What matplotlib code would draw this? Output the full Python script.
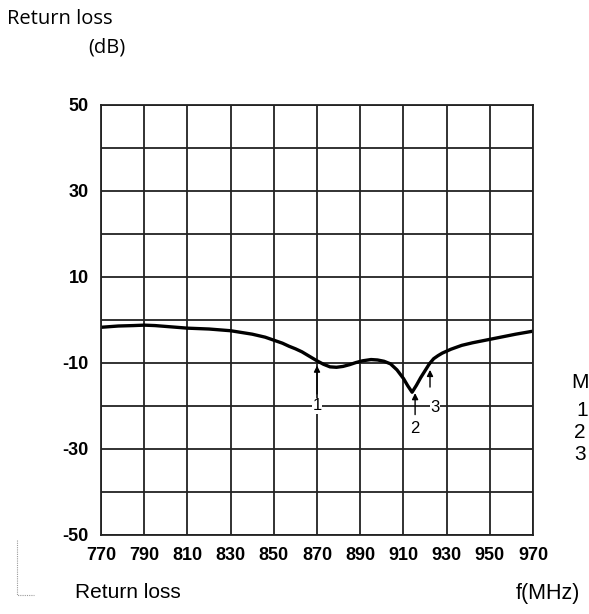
import matplotlib.pyplot as plt
from matplotlib.lines import Line2D

# frequency (MHz) and return loss (dB)
freq = [770, 778, 785, 790, 795, 800, 810, 820, 830, 840, 846, 850, 854, 857,
        860, 863, 866, 870, 873, 876, 879, 882, 885, 888, 891, 895, 898, 901,
        904, 907, 910, 912, 914, 916, 918, 920, 922, 924, 926, 928, 932, 937,
        942, 948, 955, 962, 970]
loss = [-1.7, -1.4, -1.3, -1.2, -1.3, -1.5, -1.9, -2.1, -2.5, -3.3, -4.0, -4.7,
        -5.4, -6.1, -6.7, -7.4, -8.3, -9.5, -10.3, -10.9, -11.0, -10.8, -10.4,
        -9.9, -9.5, -9.2, -9.3, -9.6, -10.2, -11.6, -13.6, -15.3, -16.8, -15.2,
        -13.4, -11.8, -10.2, -9.0, -8.3, -7.7, -6.8, -5.9, -5.3, -4.7, -4.0,
        -3.3, -2.6]

xticks = [770, 790, 810, 830, 850, 870, 890, 910, 930, 950, 970]
yticks = [50, 30, 10, -10, -30, -50]
ygrid = [-50, -40, -30, -20, -10, 0, 10, 20, 30, 40, 50]

# markers: (label, freq, arrow base, arrow tip, label x, label y)
markers = [('1', 870, -17.2, -10.6, 870, -20),
           ('2', 915.4, -22.0, -17.0, 915.4, -25.3),
           ('3', 922.3, -15.6, -11.6, 924.6, -20.4)]

# what is left visible of the legend at the right edge
legend_txt = ['M', '1', '2', '3']

fig = plt.figure(figsize=(5.89, 6.14), dpi=100)
ax = fig.add_axes([0.1715, 0.1287, 0.7335, 0.7003])

ax.set_xlim(770, 970)
ax.set_ylim(-50, 50)
ax.set_xticks(xticks)
ax.set_yticks(ygrid)
ax.set_yticklabels([str(v) if v in yticks else '' for v in ygrid])
ax.grid(True, color='#222222', linewidth=1.3)
ax.tick_params(length=0, pad=9, labelsize=13)
for lbl in ax.get_xticklabels() + ax.get_yticklabels():
    lbl.set_fontweight('bold')
    lbl.set_family('Liberation Sans')
for s in ax.spines.values():
    s.set_color('#222222')
    s.set_linewidth(1.3)

ax.plot(freq, loss, color='black', linewidth=2.4, solid_capstyle='round')

for name, f, base, tip, lx, ly in markers:
    ax.annotate('', xy=(f, tip), xytext=(f, base),
                arrowprops=dict(arrowstyle='-|>', color='black', lw=1.0,
                                mutation_scale=9, shrinkA=0, shrinkB=0))
    ax.text(lx, ly, name, ha='center', va='center', fontsize=12,
            family='Liberation Sans', color='black',
            bbox=dict(facecolor='white', edgecolor='none', pad=0.5))

# header and footer texts
fig.text(7 / 589, 1 - 19 / 614, 'Return loss', fontsize=14.5,
         family='Open Sans', va='center', ha='left')
fig.text(88 / 589, 1 - 48 / 614, '(dB)', fontsize=14.5, family='Open Sans',
         va='center', ha='left')
fig.text(75 / 589, 1 - 593 / 614, 'Return loss', fontsize=15,
         family='Liberation Sans', va='center', ha='left')
fig.text(516 / 589, 1 - 593 / 614, 'f(MHz)', fontsize=15.5,
         family='Liberation Sans', va='center', ha='left')

for txt, yy, xx in zip(legend_txt, [383, 411, 433, 455], [571, 576, 574, 574]):
    fig.text(xx / 589, 1 - yy / 614, txt, fontsize=15,
             family='Liberation Sans', va='center', ha='left')

# dotted bracket bottom-left
fig.add_artist(Line2D([17 / 589, 17 / 589, 34 / 589],
                      [1 - 540 / 614, 1 - 595 / 614, 1 - 595 / 614],
                      transform=fig.transFigure, color='#999999',
                      linewidth=0.8, linestyle=(0, (1, 1))))

fig.savefig('out.png', dpi=100)
